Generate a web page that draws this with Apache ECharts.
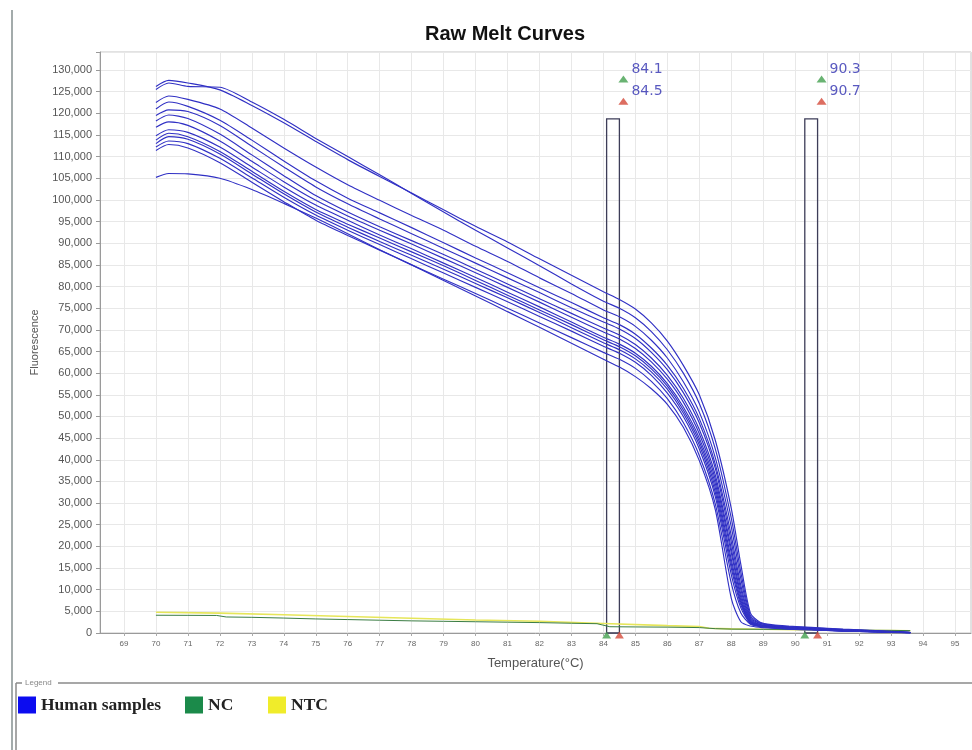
<!DOCTYPE html>
<html><head><meta charset="utf-8">
<script src="https://cdn.jsdelivr.net/npm/echarts@6/dist/echarts.min.js"></script>
<style>html,body{margin:0;padding:0;background:#fff}#chart{width:972px;height:750px}</style>
</head><body><div id="chart"></div>
<script>
// Temperature (°C) sampling points shared by the human-sample curves
const temps = [70,70.4,71,72,73,74,75,76,77,78,79,80,81,82,83,84,84.5,85,85.5,86,86.5,87,87.5,88,88.3,88.6,88.9,89.3,89.8,90.5,91.5,92.5,93.6];
// Fluorescence of each human sample, in thousands
const humanSample01 = [126.2,127.6,127.0,125.4,121.8,117.8,113.5,109.3,105.4,101.6,97.7,93.9,90.3,86.4,82.6,78.8,77.0,74.8,71.6,67.4,61.8,55.0,44.5,28.8,15.8,4.6,2.5,1.9,1.6,1.3,0.9,0.55,0.15];
const humanSample02 = [125.5,127.0,126.2,126.0,122.6,118.6,114.2,110.0,105.8,101.5,97.2,93.0,88.9,84.8,80.6,76.6,75.0,72.8,69.6,65.4,60.0,53.0,42.5,26.5,14.0,4.0,2.3,1.8,1.5,1.2,0.8,0.5,0.12];
const humanSample03 = [122.5,124.0,123.2,121.0,116.6,112.0,107.6,103.5,99.9,96.4,93.0,89.3,85.8,82.0,78.4,74.6,73.0,70.8,67.6,63.5,58.0,51.0,40.5,24.5,12.5,3.6,2.2,1.7,1.4,1.1,0.75,0.45,0.1];
const humanSample04 = [121.0,122.6,121.6,118.4,113.8,109.0,104.4,100.4,97.0,93.6,90.1,86.6,83.2,79.7,76.3,72.8,71.2,69.0,65.8,61.8,56.5,49.5,39.0,22.5,11.0,3.3,2.0,1.6,1.3,1.05,0.7,0.4,0.1];
const humanSample05 = [119.5,120.8,120.4,117.2,112.4,107.6,103.0,99.1,95.6,92.2,88.8,85.4,82.0,78.6,75.1,71.8,70.2,68.0,64.8,60.8,55.5,48.5,38.0,21.0,10.0,3.0,1.9,1.5,1.25,1.0,0.65,0.4,0.1];
const humanSample06 = [118.2,119.6,118.8,115.2,110.4,105.6,101.0,97.2,93.8,90.6,87.4,84.0,80.6,77.2,73.8,70.4,68.8,66.6,63.5,59.5,54.2,47.0,36.5,19.5,9.0,2.8,1.8,1.45,1.2,0.95,0.6,0.35,0.1];
const humanSample07 = [116.8,118.0,117.2,113.6,108.9,104.2,99.9,96.3,93.0,89.8,86.5,83.2,79.8,76.4,72.9,69.5,67.9,65.7,62.6,58.6,53.3,46.0,35.5,18.5,8.2,2.6,1.75,1.4,1.15,0.9,0.6,0.35,0.08];
const humanSample08 = [114.8,116.2,115.6,112.2,107.6,103.0,98.8,95.3,91.9,88.7,85.4,82.1,78.7,75.3,71.8,68.3,66.7,64.6,61.6,57.6,52.2,45.0,34.5,17.0,7.5,2.5,1.7,1.35,1.1,0.9,0.55,0.3,0.08];
const humanSample09 = [113.8,115.4,114.6,111.2,106.6,102.0,97.8,94.4,91.2,88.0,84.8,81.4,78.0,74.6,71.2,67.7,66.1,64.0,61.0,57.0,51.5,44.2,33.5,16.0,7.0,2.4,1.65,1.3,1.1,0.85,0.55,0.3,0.06];
const humanSample10 = [113.0,114.6,114.0,110.6,106.0,101.4,97.2,93.7,90.4,87.2,84.0,80.7,77.4,74.0,70.5,67.0,65.4,63.3,60.3,56.3,50.8,43.4,32.5,15.0,6.5,2.3,1.6,1.3,1.05,0.8,0.5,0.3,0.05];
const humanSample11 = [112.2,113.6,113.0,109.6,105.1,100.6,96.5,93.0,89.7,86.4,83.1,79.8,76.5,73.1,69.7,66.2,64.6,62.5,59.5,55.4,50.0,42.5,31.5,13.5,5.8,2.2,1.55,1.25,1.0,0.8,0.5,0.28,0.05];
const humanSample12 = [111.4,112.8,112.0,108.6,104.1,99.6,95.3,91.8,88.4,85.0,81.7,78.4,75.0,71.6,68.2,64.8,63.2,61.1,58.1,54.1,48.6,41.0,29.8,11.5,4.6,2.0,1.5,1.2,0.95,0.75,0.45,0.25,0.05];
const humanSample13 = [105.2,106.1,106.0,105.0,102.4,99.2,95.8,92.2,88.5,85.0,81.4,77.8,74.2,70.6,66.9,63.2,61.4,59.2,56.4,52.8,47.5,39.8,28.5,8.0,2.6,1.6,1.3,1.1,0.9,0.7,0.45,0.25,0.04];
const humanSamples = [humanSample01,humanSample02,humanSample03,humanSample04,humanSample05,humanSample06,humanSample07,humanSample08,humanSample09,humanSample10,humanSample11,humanSample12,humanSample13];

// Negative control (NC)
const ncTemps  = [70,71,71.9,72.2,73,74,75,76,77,78,79,80,81,82,83,83.8,84.2,85,86,87,87.5,88,89,90,91,92,93,93.6];
const ncValues = [4100,4080,4050,3700,3620,3450,3250,3100,2950,2800,2700,2600,2500,2400,2250,2150,1450,1400,1350,1250,1000,900,850,800,700,650,600,550];
// No template control (NTC)
const ntcTemps  = [70,72,74,76,78,80,82,84,86,87,87.3,88,89,90,91,92,93,93.6];
const ntcValues = [4800,4600,4200,3800,3400,3000,2700,2200,1700,1500,1100,950,850,780,700,620,560,520];

// Axis ticks
const xTickLabels = [69,70,71,72,73,74,75,76,77,78,79,80,81,82,83,84,85,86,87,88,89,90,91,92,93,94,95];
const yTickStep = 5000;

// Melt-peak region markers (start / end temperatures)
const markerStart = [84.1, 90.3];
const markerEnd   = [84.5, 90.7];
const markerTop = 118700;
const flagLevelStart = 127900;
const flagLevelEnd = 122800;

const blue = '#3030c4';
const series = [];
humanSamples.forEach(function (vals) {
  series.push({
    name: 'Human samples', type: 'line', symbol: 'none', showSymbol: false, smooth: 0.25,
    lineStyle: { color: blue, width: 1.15 }, itemStyle: { color: blue },
    data: temps.map(function (t, i) { return [t, vals[i] * 1000]; }), z: 3, silent: true
  });
});
series.push({
  name: 'NTC', type: 'line', symbol: 'none', showSymbol: false,
  lineStyle: { color: '#e6e65a', width: 1.6 }, itemStyle: { color: '#e6e65a' },
  data: ntcTemps.map(function (t, i) { return [t, ntcValues[i]]; }), z: 2, silent: true
});
series.push({
  name: 'NC', type: 'line', symbol: 'none', showSymbol: false,
  lineStyle: { color: '#3b7d44', width: 1 }, itemStyle: { color: '#3b7d44' },
  data: ncTemps.map(function (t, i) { return [t, ncValues[i]]; }), z: 2, silent: true
});
series.push({
  name: 'regions', type: 'line', data: [], silent: true,
  markArea: {
    silent: true,
    itemStyle: { color: 'rgba(0,0,0,0)', borderColor: '#3d3d58', borderWidth: 1.3 },
    data: markerStart.map(function (s, i) { return [{ xAxis: s, yAxis: 0 }, { xAxis: markerEnd[i], yAxis: markerTop }]; })
  }
});
const flagLabel = { show: true, position: 'right', distance: 3, offset: [0, -10], color: '#3030b0', fontSize: 14, fontFamily: 'DejaVu Sans' };
series.push({
  name: 'startFlag', type: 'scatter', clip: false, symbol: 'triangle', symbolSize: [10, 7], symbolOffset: [4, 0],
  itemStyle: { color: '#43a04f' }, label: flagLabel, silent: true,
  data: markerStart.map(function (s, i) { return { value: [markerEnd[i], flagLevelStart], label: { formatter: s.toFixed(1) } }; })
});
series.push({
  name: 'endFlag', type: 'scatter', clip: false, symbol: 'triangle', symbolSize: [10, 7], symbolOffset: [4, 0],
  itemStyle: { color: '#d44a3a' }, label: flagLabel, silent: true,
  data: markerEnd.map(function (e) { return { value: [e, flagLevelEnd], label: { formatter: e.toFixed(1) } }; })
});
series.push({
  name: 'startBase', type: 'scatter', clip: false, symbol: 'triangle', symbolSize: [9, 7], symbolOffset: [0, 2],
  itemStyle: { color: '#43a04f' }, silent: true, z: 5,
  data: markerStart.map(function (s) { return [s, 0]; })
});
series.push({
  name: 'endBase', type: 'scatter', clip: false, symbol: 'triangle', symbolSize: [9, 7], symbolOffset: [0, 2],
  itemStyle: { color: '#d44a3a' }, silent: true, z: 5,
  data: markerEnd.map(function (e) { return [e, 0]; })
});

const legendText = { fontFamily: 'Liberation Serif', fontWeight: 'bold', fontSize: 17.5, color: '#222' };
function legendAt(name, left, color) {
  return { data: [{ name: name, itemStyle: { color: color } }], left: left, top: 696, padding: 0, icon: 'rect',
    itemWidth: 18, itemHeight: 17, itemGap: 5, textStyle: legendText, selectedMode: false };
}

const chart = echarts.init(document.getElementById('chart'), null, { renderer: 'canvas' });
chart.setOption({
  animation: false,
  backgroundColor: '#ffffff',
  title: { text: 'Raw Melt Curves', left: 425, top: 24, padding: 0,
    textStyle: { fontFamily: 'Liberation Sans', fontWeight: 'bold', fontSize: 20, color: '#111' } },
  grid: { left: 100, right: 1, top: 52, bottom: 117, show: true, borderColor: '#c4c4c4', borderWidth: 1, backgroundColor: '#fff' },
  xAxis: {
    type: 'value', min: 68.25, max: 95.5,
    name: 'Temperature(°C)', nameLocation: 'middle', nameGap: 24,
    nameTextStyle: { fontFamily: 'Liberation Sans', fontSize: 13, color: '#555' },
    axisLine: { show: true, lineStyle: { color: '#9a9a9a' } },
    axisTick: { show: true, length: 3, customValues: xTickLabels, lineStyle: { color: '#aaa' } },
    axisLabel: { customValues: xTickLabels, fontSize: 8, color: '#666', margin: 7, fontFamily: 'Liberation Sans' },
    splitLine: { show: true, lineStyle: { color: '#e8e8e8' } }
  },
  yAxis: {
    type: 'value', min: 0, max: 134150, interval: yTickStep,
    name: 'Fluorescence', nameLocation: 'middle', nameGap: 60,
    nameTextStyle: { fontFamily: 'Liberation Sans', fontSize: 11, color: '#555' },
    axisLine: { show: true, lineStyle: { color: '#9a9a9a' } },
    axisTick: { show: true, length: 4, lineStyle: { color: '#999' } },
    axisLabel: { fontSize: 11, color: '#555', margin: 8, fontFamily: 'Liberation Sans',
      formatter: function (v) { return v % yTickStep === 0 ? v.toLocaleString('en-US') : ''; } },
    splitLine: { show: true, lineStyle: { color: '#e8e8e8' } }
  },
  legend: [
    legendAt('Human samples', 18, '#0c0cf0'),
    legendAt('NC', 185, '#1b8a4a'),
    legendAt('NTC', 268, '#f0ec2a')
  ],
  graphic: [
    { type: 'line', shape: { x1: 12, y1: 10, x2: 12, y2: 750 }, style: { stroke: '#a3abab', lineWidth: 2 } },
    { type: 'line', shape: { x1: 16, y1: 683, x2: 16, y2: 750 }, style: { stroke: '#8a8a8a', lineWidth: 1.5 } },
    { type: 'line', shape: { x1: 16, y1: 683, x2: 22, y2: 683 }, style: { stroke: '#8a8a8a', lineWidth: 1.5 } },
    { type: 'line', shape: { x1: 58, y1: 683, x2: 972, y2: 683 }, style: { stroke: '#8a8a8a', lineWidth: 1.5 } },
    { type: 'text', left: 25, top: 679, style: { text: 'Legend', fontSize: 8, fill: '#888', fontFamily: 'Liberation Sans' } }
  ],
  series: series
});
</script></body></html>
